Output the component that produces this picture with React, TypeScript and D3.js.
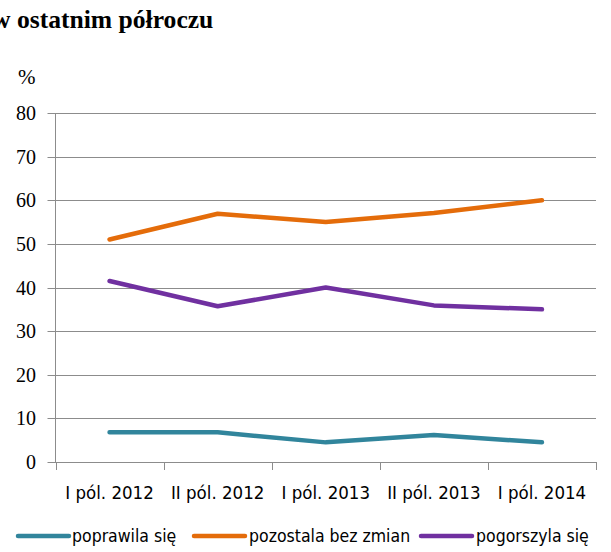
import React, { useEffect, useRef } from "react";
import * as d3 from "d3";

const categories = ["I pól. 2012", "II pól. 2012", "I pól. 2013", "II pól. 2013", "I pól. 2014"];
const poprawila = [6.8, 6.8, 4.5, 6.2, 4.5];
const bezZmian = [51, 56.9, 55, 57.1, 60];
const pogorszyla = [41.5, 35.7, 40, 35.9, 35];
const yTicks = [0, 10, 20, 30, 40, 50, 60, 70, 80];
const seriesNames = ["poprawila się", "pozostala bez zmian", "pogorszyla się"];
const seriesColors = ["#31859C", "#E46C0A", "#7030A0"];

const sansFont = "DejaVu Sans Condensed, DejaVu Sans, sans-serif";

const App = () => {
  const ref = useRef<SVGSVGElement>(null);

  useEffect(() => {
    const svg = d3.select(ref.current);
    svg.selectAll("*").remove();

    const width = 611;
    const height = 552;
    const margin = { top: 113, right: 15, bottom: 90, left: 55.5 };

    const x = d3.scaleBand()
      .domain(categories)
      .range([margin.left, width - margin.right]);

    const y = d3.scaleLinear()
      .domain([0, 80])
      .range([height - margin.bottom, margin.top]);

    // Tytul (ucięty z lewej, jak na oryginale)
    svg.append("text")
      .attr("x", -8)
      .attr("y", 28)
      .attr("font-family", "Liberation Serif, serif")
      .attr("font-weight", "bold")
      .attr("font-size", 25.6)
      .attr("fill", "#000")
      .text("w ostatnim półroczu");

    svg.append("text")
      .attr("x", 18)
      .attr("y", 84)
      .attr("font-family", "Liberation Serif, serif")
      .attr("font-size", 21)
      .attr("fill", "#000")
      .text("%");

    // Siatka
    svg.append("g")
      .selectAll("line")
      .data(yTicks)
      .enter()
      .append("line")
      .attr("x1", margin.left - 8)
      .attr("x2", width - margin.right)
      .attr("y1", d => Math.round(y(d)) + 0.5)
      .attr("y2", d => Math.round(y(d)) + 0.5)
      .attr("stroke", "#8c8c8c")
      .attr("stroke-width", 1);

    // Etykiety osi Y
    svg.append("g")
      .selectAll("text")
      .data(yTicks)
      .enter()
      .append("text")
      .attr("x", 36)
      .attr("y", d => y(d) + 7)
      .attr("text-anchor", "end")
      .attr("font-family", "Liberation Serif, serif")
      .attr("font-size", 20)
      .attr("fill", "#000")
      .text(d => d);

    // Os Y
    svg.append("line")
      .attr("x1", margin.left)
      .attr("x2", margin.left)
      .attr("y1", y(80))
      .attr("y2", y(0))
      .attr("stroke", "#8c8c8c");

    // Znaczniki osi X
    const edges = categories.map(c => x(c)!).concat([width - margin.right]);
    svg.append("g")
      .selectAll("line")
      .data(edges)
      .enter()
      .append("line")
      .attr("x1", d => Math.round(d) + 0.5)
      .attr("x2", d => Math.round(d) + 0.5)
      .attr("y1", y(0))
      .attr("y2", y(0) + 8)
      .attr("stroke", "#8c8c8c");

    svg.append("g")
      .selectAll("text")
      .data(categories)
      .enter()
      .append("text")
      .attr("x", d => x(d)! + x.bandwidth() / 2)
      .attr("y", 499)
      .attr("text-anchor", "middle")
      .attr("font-family", sansFont)
      .attr("font-size", 18.5)
      .attr("fill", "#000")
      .text(d => d);

    // Linie
    const allSeries = [poprawila, bezZmian, pogorszyla];
    const line = d3.line<number>()
      .x((d, i) => x(categories[i])! + x.bandwidth() / 2)
      .y(d => y(d));

    allSeries.forEach((s, i) => {
      svg.append("path")
        .datum(s)
        .attr("d", line)
        .attr("fill", "none")
        .attr("stroke", seriesColors[i])
        .attr("stroke-width", 4.5)
        .attr("stroke-linecap", "round")
        .attr("stroke-linejoin", "round");
    });

    // Legenda
    const legendX = [18, 194, 421];
    const legendTextX = [72, 249, 476];
    seriesNames.forEach((name, i) => {
      svg.append("line")
        .attr("x1", legendX[i])
        .attr("x2", legendX[i] + 51)
        .attr("y1", 536)
        .attr("y2", 536)
        .attr("stroke", seriesColors[i])
        .attr("stroke-width", 4.5)
        .attr("stroke-linecap", "round");
      svg.append("text")
        .attr("x", legendTextX[i])
        .attr("y", 542)
        .attr("font-family", sansFont)
        .attr("font-size", 17.5)
        .attr("fill", "#000")
        .text(name);
    });
  }, []);

  return (
    <svg
      ref={ref}
      width={611}
      height={552}
      style={{ position: "absolute", left: 0, top: 0, background: "#fff" }}
    />
  );
};

export default App;
